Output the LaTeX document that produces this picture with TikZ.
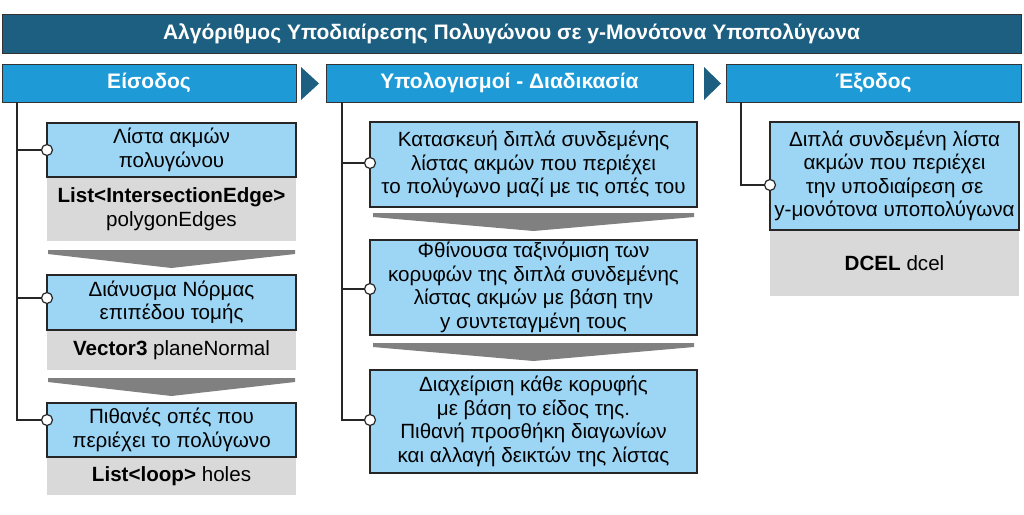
\documentclass[tikz,border=0pt]{standalone}
\usepackage{fontspec}
\setmainfont{Liberation Sans}
\begin{document}
\begin{tikzpicture}[x=1pt,y=-1pt,
  title/.style={draw=black!80,line width=1pt,fill=tdark,text=white,font=\bfseries\fontsize{21}{24}\selectfont},
  head/.style={draw=black!80,line width=1pt,fill=hblue,text=white,font=\bfseries\fontsize{21}{24}\selectfont},
  box/.style={draw=black!85,line width=1.3pt,fill=lblue,align=center,font=\fontsize{20.6}{23.5}\selectfont},
  gbox/.style={fill=lgray,align=center,font=\fontsize{20.6}{23.5}\selectfont},
  conn/.style={line width=1.2pt,black!85},
  dot/.style={circle,draw=black!85,line width=1.2pt,fill=white,inner sep=0pt,minimum size=11pt},
  garrow/.style={fill=black!50}]
\definecolor{tdark}{HTML}{1D5F80}
\definecolor{hblue}{HTML}{1E9BD7}
\definecolor{lblue}{HTML}{9DD6F5}
\definecolor{lgray}{HTML}{D9D9D9}
\useasboundingbox (0,0) rectangle (1024,514);
\fill[white] (0,0) rectangle (1024,514);
\node[title,minimum width=1019pt,minimum height=39pt,inner sep=0pt] (t) at (511.5,33.5) {Αλγόριθμος Υποδιαίρεσης Πολυγώνου σε y-Μονότονα Υποπολύγωνα};
\node[head,minimum width=294pt,minimum height=38pt,inner sep=0pt] (h1) at (149,83) {Είσοδος};
\node[head,minimum width=367pt,minimum height=38pt,inner sep=0pt] (h2) at (509.5,83) {Υπολογισμοί - Διαδικασία};
\node[head,minimum width=295pt,minimum height=38pt,inner sep=0pt] (h3) at (873.5,83) {Έξοδος};
\fill[tdark] (301,67) -- (319,83.5) -- (301,100) -- cycle;
\fill[tdark] (704,67) -- (721,83.5) -- (704,100) -- cycle;
% left column
\node[gbox,minimum width=249pt,minimum height=64pt,inner sep=0pt] (g1) at (171.5,209) {\textbf{List<IntersectionEdge>}\\polygonEdges};
\node[box,minimum width=249pt,minimum height=54pt,inner sep=0pt] (b1) at (171.5,150) {Λίστα ακμών\\πολυγώνου};
\fill[garrow] (48,250) -- (295,250) -- (295,254) -- (171.5,268) -- (48,254) -- cycle;
\node[gbox,minimum width=249pt,minimum height=40pt,inner sep=0pt] (g2) at (171.5,350) {\textbf{Vector3} planeNormal};
\node[box,minimum width=249pt,minimum height=55pt,inner sep=0pt] (b2) at (171.5,302.5) {Διάνυσμα Νόρμας\\επιπέδου τομής};
\fill[garrow] (48,378) -- (295,378) -- (295,382) -- (171.5,396) -- (48,382) -- cycle;
\node[gbox,minimum width=249pt,minimum height=38pt,inner sep=0pt] (g3) at (171.5,476) {\textbf{List<loop>} holes};
\node[box,minimum width=249pt,minimum height=54pt,inner sep=0pt] (b3) at (171.5,430) {Πιθανές οπές που\\περιέχει το πολύγωνο};
\coordinate (l0) at (17,102);
\draw[conn] (l0) -- (17,420) -- (47,420);
\draw[conn] (17,150) -- (b1.west);
\draw[conn] (17,298) -- (47,298);
\node[dot] (d1) at (47,150) {};
\node[dot] (d2) at (47,298) {};
\node[dot] (d3) at (47,420) {};
% middle column
\node[box,minimum width=327pt,minimum height=85pt,inner sep=0pt] (m1) at (533.5,164.5) {Κατασκευή διπλά συνδεμένης\\λίστας ακμών που περιέχει\\το πολύγωνο μαζί με τις οπές του};
\fill[garrow] (373,213) -- (694,213) -- (694,217) -- (533.5,231) -- (373,217) -- cycle;
\node[box,minimum width=327pt,minimum height=95pt,inner sep=0pt] (m2) at (533.5,287.5) {Φθίνουσα ταξινόμιση των\\κορυφών της διπλά συνδεμένης\\λίστας ακμών με βάση την\\y συντεταγμένη τους};
\fill[garrow] (373,343) -- (694,343) -- (694,347) -- (533.5,361) -- (373,347) -- cycle;
\node[box,minimum width=327pt,minimum height=103pt,inner sep=0pt] (m3) at (533.5,421.5) {Διαχείριση κάθε κορυφής\\με βάση το είδος της.\\Πιθανή προσθήκη διαγωνίων\\και αλλαγή δεικτών της λίστας};
\draw[conn] (342,102) -- (342,420) -- (370,420);
\draw[conn] (342,163) -- (370,163);
\draw[conn] (342,289) -- (370,289);
\node[dot] (e1) at (370,163) {};
\node[dot] (e2) at (370,289) {};
\node[dot] (e3) at (370,420) {};
% right column
\node[gbox,minimum width=249pt,minimum height=66pt,inner sep=0pt,text depth=0pt] (g4) at (894.5,263) {\textbf{DCEL} dcel};
\node[box,minimum width=249pt,minimum height=108pt,inner sep=0pt] (r1) at (894.5,176) {Διπλά συνδεμένη λίστα\\ακμών που περιέχει\\την υποδιαίρεση σε\\y-μονότονα υποπολύγωνα};
\draw[conn] (741,102) -- (741,185) -- (770,185);
\node[dot] (f1) at (770,185) {};
\end{tikzpicture}
\end{document}
